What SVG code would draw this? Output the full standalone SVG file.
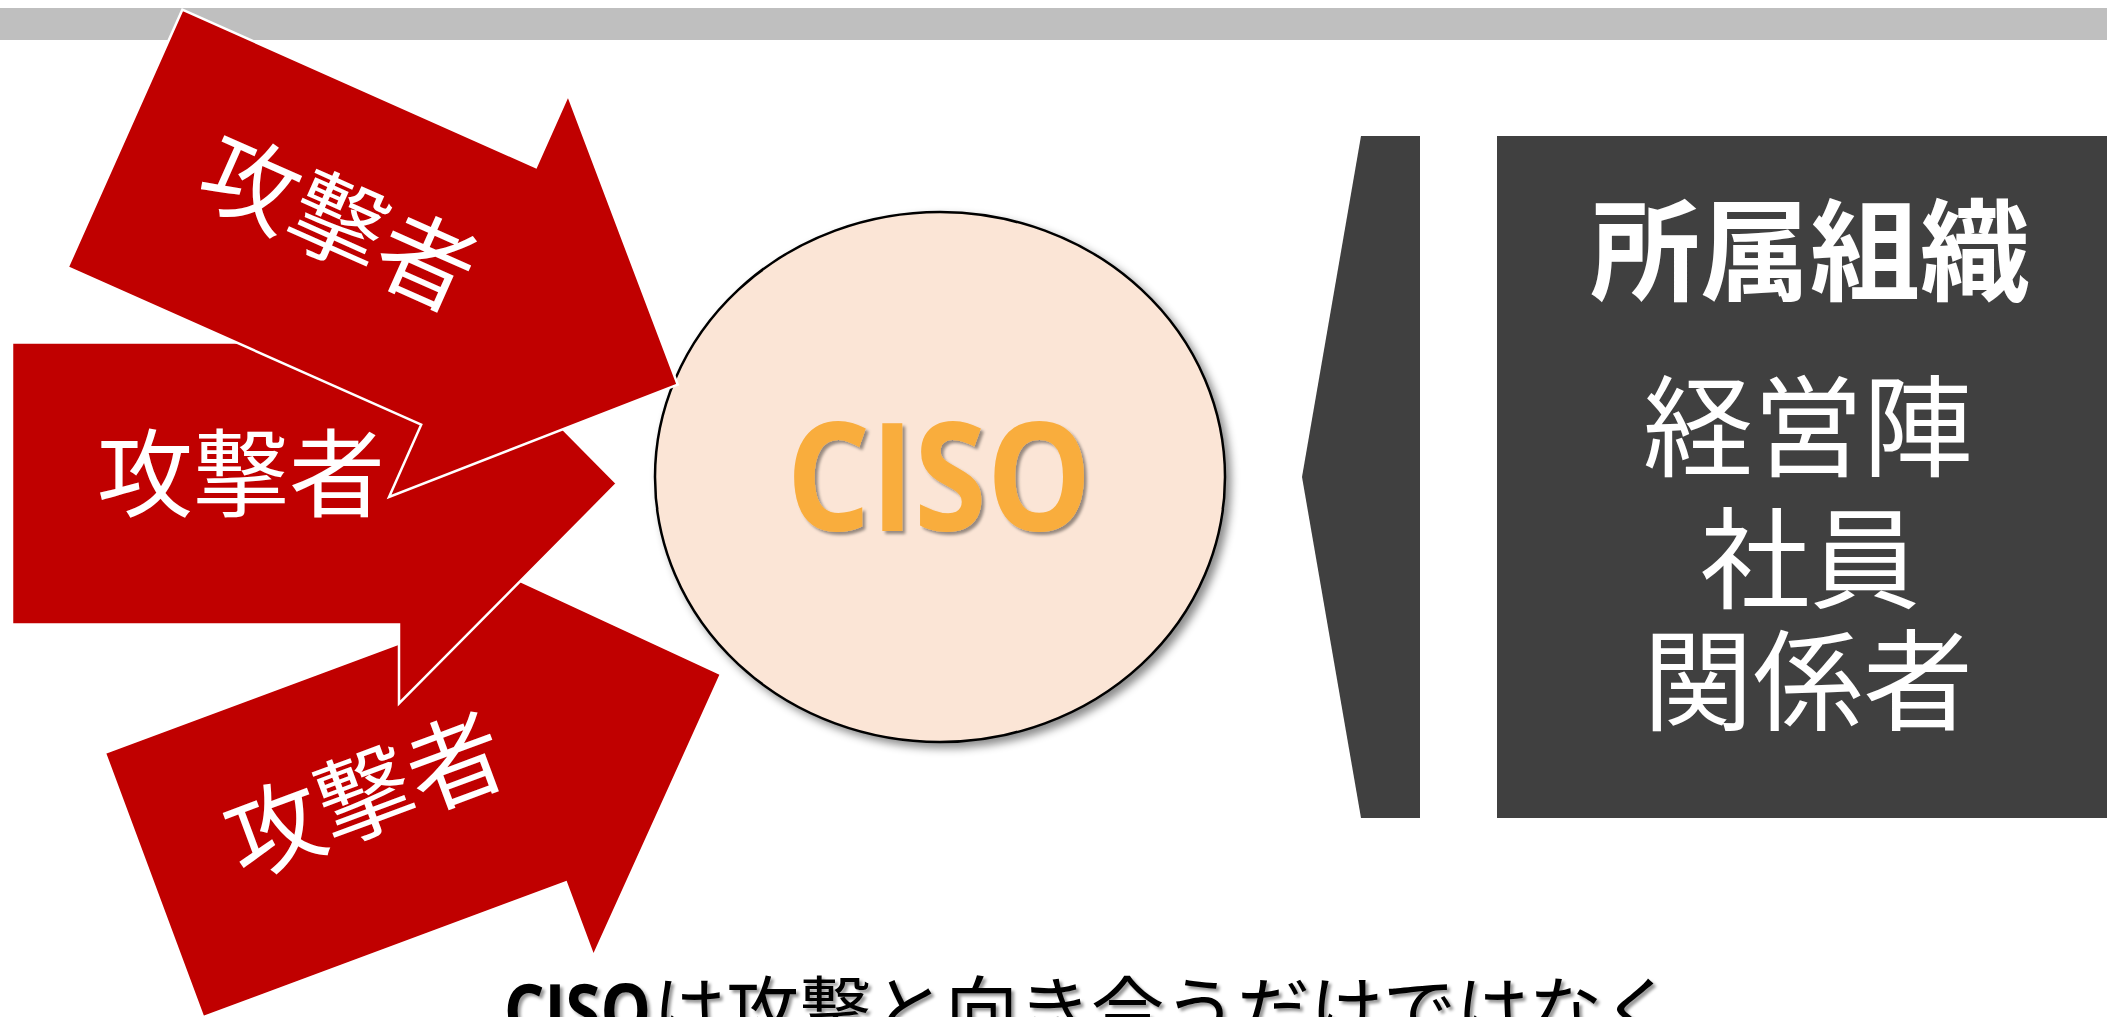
<svg xmlns="http://www.w3.org/2000/svg" width="2107" height="1017" viewBox="0 0 2107 1017">
<defs>
<style>
.arrow{fill:#c00000;stroke:#ffffff;stroke-width:2.5;stroke-linejoin:miter}
.atext{fill:#ffffff;font-family:"Noto Sans CJK JP",sans-serif;font-size:96px;text-anchor:middle}
.rtext{fill:#ffffff;font-family:"Noto Sans CJK JP",sans-serif;font-size:110px;text-anchor:middle}
</style>
<path id="arr" d="M0,-141 L387,-141 L387,-220 L605,0 L387,220 L387,141 L0,141 Z"/>
<filter id="shadow" x="-10%" y="-10%" width="130%" height="130%">
<feDropShadow dx="5" dy="5" stdDeviation="4" flood-color="#000" flood-opacity="0.45"/>
</filter>
<filter id="tshadow" x="-10%" y="-10%" width="130%" height="130%">
<feDropShadow dx="3" dy="3" stdDeviation="1.5" flood-color="#000" flood-opacity="0.4"/>
</filter>
</defs>
<rect x="0" y="0" width="2107" height="1017" fill="#ffffff"/>
<rect x="0" y="8" width="2107" height="32" fill="#bfbfbf"/>

<g id="ciso">
<ellipse cx="940" cy="477" rx="285" ry="265" fill="#fbe5d6" stroke="#000" stroke-width="2.5" filter="url(#shadow)"/>
<text x="939" y="531" font-family="'Open Sans',sans-serif" font-weight="bold" font-size="150" fill="#f9ad3d" text-anchor="middle" textLength="305" lengthAdjust="spacingAndGlyphs" filter="url(#tshadow)">CISO</text>
</g>

<g id="connectors">
<g id="attacker3" transform="translate(154,885) rotate(-20.4)">
<use href="#arr" class="arrow"/>
<text class="atext" x="229" y="25">攻撃者</text>
</g>
<g id="attacker2" transform="translate(12,483.5)">
<use href="#arr" class="arrow"/>
<text class="atext" x="229" y="25">攻撃者</text>
</g>
<g id="attacker1" transform="translate(125,138.5) rotate(24)">
<use href="#arr" class="arrow"/>
<text class="atext" x="229" y="25">攻撃者</text>
</g>
</g>

<g id="org">
<polygon points="1361,136 1420,136 1420,818 1361,818 1302,477" fill="#404040"/>
<rect x="1497" y="136" width="610" height="682" fill="#404040"/>
<text class="rtext" x="1810" y="292" font-weight="bold">所属組織</text>
<text class="rtext" x="1808" y="468">経営陣</text>
<text class="rtext" x="1810" y="600">社員</text>
<text class="rtext" x="1808" y="722">関係者</text>
</g>

<g id="caption" filter="url(#tshadow)">
<text y="1037" font-family="'Noto Sans CJK JP',sans-serif" font-size="73" fill="#000"><tspan x="504" font-family="'Open Sans',sans-serif" font-weight="bold" textLength="147" lengthAdjust="spacingAndGlyphs">CISO</tspan><tspan x="653">は攻撃と向き合うだけではなく</tspan></text>
</g>
</svg>
